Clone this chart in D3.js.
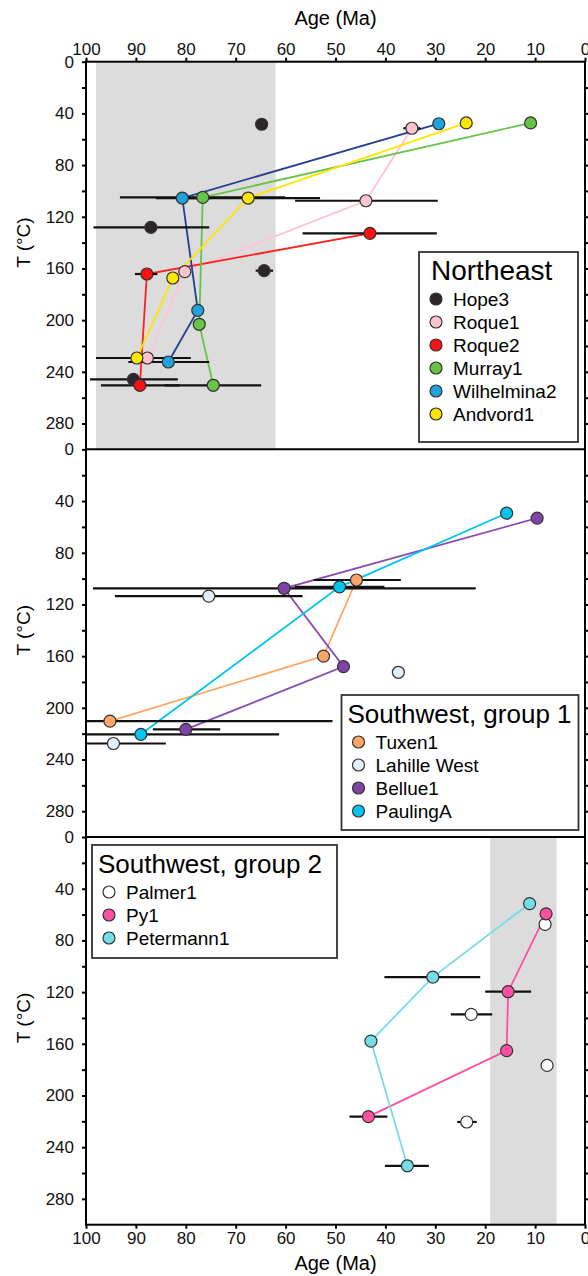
<!DOCTYPE html>
<html>
<head>
<meta charset="utf-8">
<script src="https://cdn.jsdelivr.net/npm/d3@7"></script>
<style>
  body { margin: 0; background: white; }
  text { font-family: Arial, "Liberation Sans", Helvetica, sans-serif; }
</style>
</head>
<body>
<div id="chart"></div>
<script>
// each sample: rows of [age, temp, ageMin, ageMax] (ageMin/ageMax null = no error bar)
const ageTicks = [100, 90, 80, 70, 60, 50, 40, 30, 20, 10, 0]
const tempTicks = [0, 40, 80, 120, 160, 200, 240, 280]

const northeast = [
  { name: "Hope3", fill: "#2d2628", line: null, rows: [[64.8, 48.4, null, null], [87.0, 128.2, 98.5, 75.3], [64.3, 161.7, 66, 62.5], [90.5, 245.8, 99.2, 81.6]] },
  { name: "Roque1", fill: "#ffc4d0", line: "#ffc4d0", rows: [[34.7, 51.5, 36.4, 33], [43.9, 107.6, 58.1, 29.5], [80.2, 162.5, null, null], [87.7, 229.3, 95, 80]] },
  { name: "Roque2", fill: "#ff1010", line: "#ff2020", rows: [[43.1, 132.8, 56.6, 29.7], [87.8, 164.3, 90.2, 85.7], [89.2, 250.4, 97, 81.3]] },
  { name: "Murray1", fill: "#66c447", line: "#66c447", rows: [[10.9, 47.4, null, null], [76.6, 105, 93.2, 60.1], [77.3, 203.2, null, null], [74.5, 250.4, 84.2, 64.9]] },
  { name: "Wilhelmina2", fill: "#1fa3dc", line: "#233f8f", rows: [[29.3, 48, null, null], [80.7, 105.5, 86, 75], [77.6, 192.4, null, null], [83.5, 232.4, 91.5, 75.3]] },
  { name: "Andvord1", fill: "#ffe600", line: "#ffe600", rows: [[23.8, 47.4, null, null], [67.5, 105.5, 82, 53.1], [82.6, 167.4, null, null], [89.8, 229.3, 98, 79]] }
]

const southwest1 = [
  { name: "Tuxen1", fill: "#ffa566", line: "#ffa566", rows: [[45.8, 101.1, 54.4, 36.9], [52.4, 160, null, null], [95.2, 210.3, 100, 50.6]] },
  { name: "Lahille West", fill: "#e2eefa", line: null, rows: [[75.4, 113.6, 94.2, 56.6], [37.4, 172.5, null, null], [94.5, 227.6, 100, 84]] },
  { name: "Bellue1", fill: "#7f43a8", line: "#8a4cb3", rows: [[9.6, 53.2, null, null], [60.3, 107.5, 98.6, 21.9], [48.4, 168.1, null, null], [80, 216.7, 86.6, 73.1]] },
  { name: "PaulingA", fill: "#00c6ef", line: "#00c6ef", rows: [[15.7, 49.4, 16.8, 14.6], [49.2, 106.4, 58.2, 40.2], [89, 220.5, 100, 61.3]] }
]

const southwest2 = [
  { name: "Palmer1", fill: "#ffffff", line: null, rows: [[8.0, 67.6, null, null], [22.8, 137.2, 26.9, 18.6], [7.6, 176.7, null, null], [23.7, 220.5, 25.6, 21.7]] },
  { name: "Py1", fill: "#ff4fa0", line: "#ff4fa0", rows: [[7.8, 59.4, null, null], [15.4, 119.7, 20, 10.8], [15.7, 165.3, null, null], [43.4, 216.4, 47.2, 39.6]] },
  { name: "Petermann1", fill: "#74dde6", line: "#74dde6", rows: [[11.1, 51.5, null, null], [30.5, 108.4, 40.2, 21.0], [42.9, 157.9, null, null], [35.6, 254.4, 40.1, 31.3]] }
]

const shading1 = [98, 62]
const shading3 = [19, 5.7]

const width = 588, height = 1276
const plotLeft = 86, plotRight = 585, plotTop = 61.7, panelH = 387.67

const svg = d3.select("#chart").append("svg")
  .attr("width", width)
  .attr("height", height)

const x = d3.scaleLinear().domain([100, 0]).range([plotLeft, plotRight])

const panels = [
  { data: northeast, shade: shading1, title: "Northeast", titleSize: 28, legend: { x: 419, y: 252, w: 159, h: 190 } },
  { data: southwest1, shade: null, title: "Southwest, group 1", titleSize: 26, legend: { x: 341.5, y: 695, w: 237, h: 135 } },
  { data: southwest2, shade: shading3, title: "Southwest, group 2", titleSize: 26, legend: { x: 92, y: 845, w: 245, h: 113 } }
]

panels.forEach((p, i) => {
  const y0 = plotTop + i * panelH
  const y = d3.scaleLinear().domain([0, 300]).range([y0, y0 + panelH])
  const g = svg.append("g")

  // grey age band
  if (p.shade) {
    g.append("rect")
      .attr("x", x(p.shade[0]))
      .attr("width", x(p.shade[1]) - x(p.shade[0]))
      .attr("y", y(0))
      .attr("height", y(300) - y(0))
      .attr("fill", "#dcdcdc")
  }

  // left axis
  g.append("g")
    .attr("transform", `translate(${plotLeft},0)`)
    .call(d3.axisLeft(y).tickValues(d3.range(0, 300, 20)).tickSize(4).tickFormat(d => tempTicks.includes(d) ? d : ""))
    .call(a => a.select(".domain").remove())
    .call(a => a.selectAll("line").attr("stroke-width", 2))
    .call(a => a.selectAll("text").attr("font-size", 17).attr("x", -12).attr("fill", "#111"))

  // right axis
  g.append("g")
    .attr("transform", `translate(${plotRight},0)`)
    .call(d3.axisRight(y).tickValues(d3.range(20, 300, 20)).tickSize(4).tickFormat(""))
    .call(a => a.select(".domain").remove())
    .call(a => a.selectAll("line").attr("stroke-width", 2))

  g.append("text")
    .attr("transform", `translate(30,${y(140)}) rotate(-90)`)
    .attr("text-anchor", "middle")
    .attr("font-size", 19)
    .text("T (°C)")

  // lines linking the steps of each sample
  const line = d3.line().x(d => x(d[0])).y(d => y(d[1]))
  p.data.filter(s => s.line).forEach(s => {
    g.append("path")
      .attr("d", line(s.rows))
      .attr("fill", "none")
      .attr("stroke", s.line)
      .attr("stroke-width", 1.8)
  })

  // age error bars
  p.data.forEach(s => {
    g.selectAll(null)
      .data(s.rows.filter(r => r[2] != null))
      .join("line")
      .attr("x1", d => x(d[2]))
      .attr("x2", d => x(d[3]))
      .attr("y1", d => y(d[1]))
      .attr("y2", d => y(d[1]))
      .attr("stroke", "#111")
      .attr("stroke-width", 2.2)
  })

  // points
  p.data.forEach(s => {
    g.selectAll(null)
      .data(s.rows)
      .join("circle")
      .attr("cx", d => x(d[0]))
      .attr("cy", d => y(d[1]))
      .attr("r", 6)
      .attr("fill", s.fill)
      .attr("stroke", "#333")
      .attr("stroke-width", 1.2)
  })

  // legend
  const L = p.legend
  const lg = svg.append("g").attr("transform", `translate(${L.x},${L.y})`)
  lg.append("rect")
    .attr("width", L.w)
    .attr("height", L.h)
    .attr("fill", "white")
    .attr("stroke", "#333")
    .attr("stroke-width", 1.8)
  lg.append("text")
    .attr("x", i === 0 ? 12 : 6)
    .attr("y", 28)
    .attr("font-size", p.titleSize)
    .text(p.title)
  const items = lg.selectAll("g.item")
    .data(p.data)
    .join("g")
    .attr("class", "item")
    .attr("transform", (d, k) => `translate(17,${47 + k * 23})`)
  items.append("circle")
    .attr("r", 6)
    .attr("fill", d => d.fill)
    .attr("stroke", "#333")
    .attr("stroke-width", 1.2)
  items.append("text")
    .attr("x", 17)
    .attr("y", 7)
    .attr("font-size", 19)
    .text(d => d.name)
})

// frame and panel separators
svg.append("rect")
  .attr("x", plotLeft).attr("y", plotTop)
  .attr("width", plotRight - plotLeft).attr("height", panelH * 3)
  .attr("fill", "none")
  .attr("stroke", "black")
  .attr("stroke-width", 2)
;[1, 2].forEach(k => {
  svg.append("line")
    .attr("x1", plotLeft).attr("x2", plotRight)
    .attr("y1", plotTop + k * panelH).attr("y2", plotTop + k * panelH)
    .attr("stroke", "black")
    .attr("stroke-width", 2)
})

// top and bottom age axes
svg.append("g")
  .attr("transform", `translate(0,${plotTop})`)
  .call(d3.axisTop(x).tickValues(ageTicks).tickSize(4))
  .call(a => a.select(".domain").remove())
  .call(a => a.selectAll("line").attr("stroke-width", 2))
  .call(a => a.selectAll("text").attr("font-size", 17).attr("fill", "#111"))

svg.append("g")
  .attr("transform", `translate(0,${plotTop + panelH * 3})`)
  .call(d3.axisBottom(x).tickValues(ageTicks).tickSize(4))
  .call(a => a.select(".domain").remove())
  .call(a => a.selectAll("line").attr("stroke-width", 2))
  .call(a => a.selectAll("text").attr("font-size", 17).attr("fill", "#111"))

svg.append("text")
  .attr("x", (plotLeft + plotRight) / 2)
  .attr("y", 25)
  .attr("text-anchor", "middle")
  .attr("font-size", 20)
  .text("Age (Ma)")

svg.append("text")
  .attr("x", (plotLeft + plotRight) / 2)
  .attr("y", 1270)
  .attr("text-anchor", "middle")
  .attr("font-size", 20)
  .text("Age (Ma)")
</script>
</body>
</html>
